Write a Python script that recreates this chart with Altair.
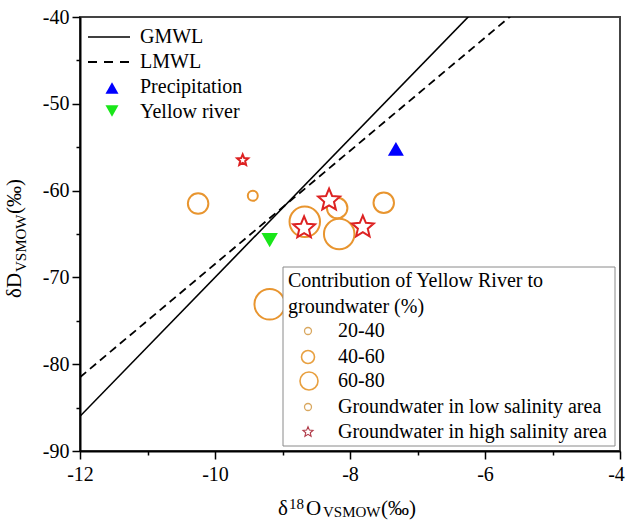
import altair as alt
import pandas as pd

# ---------------- data ----------------
low_x = [-10.25, -9.44, -8.67, -8.19, -8.16, -7.50, -9.19]
low_y = [-61.5, -60.6, -63.6, -62.0, -65.0, -61.4, -73.1]
low_group = ["40-60", "20-40", "60-80", "40-60", "60-80", "40-60", "60-80"]

high_x = [-9.59, -8.68, -8.31, -7.81]
high_y = [-56.5, -64.3, -61.1, -64.2]
high_group = ["20-40", "40-60", "40-60", "40-60"]

precip_x = [-7.32]
precip_y = [-55.2]
river_x = [-9.19]
river_y = [-65.7]

gmwl_slope, gmwl_intercept = 8.0, 10.0
lmwl_slope, lmwl_intercept = 6.52, -3.26
line_x = [-12.0, -4.0]

groups = ["20-40", "40-60", "60-80"]
legend1_labels = ["GMWL", "LMWL", "Precipitation", "Yellow river"]
legend2_title = ["Contribution of Yellow River to", "groundwater (%)"]
legend2_labels = ["20-40", "40-60", "60-80",
                  "Groundwater in low salinity area",
                  "Groundwater in high salinity area"]

x_ticks = list(range(-12, -3))
y_ticks = list(range(-90, -35, 5))

# ---------------- styles ----------------
FONT = "Liberation Serif, Times New Roman, Times, serif"
ORANGE = "#E8952F"
RED = "#DD2222"
STAR = ("M0,-1L0.265,-0.364L0.951,-0.309L0.428,0.139L0.588,0.809L0,0.45"
        "L-0.588,0.809L-0.428,0.139L-0.951,-0.309L-0.265,-0.364Z")

x_axis = alt.Axis(
    values=x_ticks, title=None, grid=False,
    labelExpr="datum.value % 2 === 0 ? '-' + abs(datum.value) : ''",
    tickSize={"condition": {"test": "datum.value % 2 === 0", "value": 8}, "value": 4},
    labelOffset={"condition": {"test": "datum.value === -4", "value": -4}, "value": 0},
    tickColor="black", tickWidth=1.5, domainColor="black", domainWidth=2,
    labelFont=FONT, labelFontSize=20, labelColor="black", labelPadding=5,
    labelFlush=False, labelOverlap=False,
)
y_axis = alt.Axis(
    values=y_ticks, title=None, grid=False,
    labelExpr="datum.value % 10 === 0 ? '-' + abs(datum.value) : ''",
    tickSize={"condition": {"test": "datum.value % 10 === 0", "value": 8}, "value": 4},
    tickColor="black", tickWidth=1.5, domainColor="black", domainWidth=2,
    labelFont=FONT, labelFontSize=20, labelColor="black", labelPadding=3,
    labelFlush=False, labelOverlap=False,
)


def X():
    return alt.X("x:Q", scale=alt.Scale(domain=[-12, -4], nice=False, zero=False), axis=x_axis)


def Y():
    return alt.Y("y:Q", scale=alt.Scale(domain=[-90, -40], nice=False, zero=False), axis=y_axis)


# ---------------- data layers ----------------
gmwl_df = pd.DataFrame({"x": line_x, "y": [gmwl_slope * v + gmwl_intercept for v in line_x]})
lmwl_df = pd.DataFrame({"x": line_x, "y": [lmwl_slope * v + lmwl_intercept for v in line_x]})

gmwl = alt.Chart(gmwl_df).mark_line(color="black", strokeWidth=1.6, clip=True).encode(x=X(), y=Y())
lmwl = alt.Chart(lmwl_df).mark_line(color="black", strokeWidth=1.8, strokeDash=[8, 5], clip=True).encode(x=X(), y=Y())

low_df = pd.DataFrame({"x": low_x, "y": low_y, "group": low_group})
circles = alt.Chart(low_df).mark_point(
    shape="circle", filled=False, color=ORANGE, strokeWidth=2, opacity=1
).encode(
    x=X(), y=Y(),
    size=alt.Size("group:N", scale=alt.Scale(type="ordinal", domain=groups, range=[100, 420, 930]), legend=None),
)

high_df = pd.DataFrame({"x": high_x, "y": high_y, "sgroup": high_group})
stars = alt.Chart(high_df).mark_point(
    shape=STAR, fill="white", fillOpacity=1, stroke=RED, strokeWidth=2, opacity=1
).encode(
    x=X(), y=Y(),
    size=alt.Size("sgroup:N", scale=alt.Scale(type="ordinal", domain=["20-40", "40-60"], range=[135, 529]), legend=None),
)

precip = alt.Chart(pd.DataFrame({"x": precip_x, "y": precip_y})).mark_point(
    shape="triangle-up", filled=True, color="#0000FF", size=256, opacity=1
).encode(x=X(), y=Y())

river = alt.Chart(pd.DataFrame({"x": river_x, "y": river_y})).mark_point(
    shape="triangle-down", filled=True, color="#19E619", size=270, opacity=1
).encode(x=X(), y=Y())

# ---------------- helpers for pixel-placed decorations ----------------
one = pd.DataFrame({"k": [0]})


def text(label, px, py, size=20, align="left", baseline="middle", angle=0):
    kw = dict(font=FONT, fontSize=size, color="black", align=align, baseline=baseline)
    if angle:
        kw["angle"] = angle
    return alt.Chart(pd.DataFrame({"t": [label]})).mark_text(**kw).encode(
        text="t:N", x=alt.value(px), y=alt.value(py))


def sym(px, py, **mark):
    return alt.Chart(one).mark_point(opacity=1, **mark).encode(x=alt.value(px), y=alt.value(py))


layers = [gmwl, lmwl, circles, stars, precip, river]

# legend 1 (top-left, no frame)
l1_rows = [20, 45, 70, 95]
layers.append(alt.Chart(one).mark_rule(color="black", strokeWidth=1.5).encode(
    x=alt.value(8), x2=alt.value(50), y=alt.value(l1_rows[0])))
layers.append(alt.Chart(one).mark_rule(color="black", strokeWidth=1.8, strokeDash=[9, 7]).encode(
    x=alt.value(8), x2=alt.value(50), y=alt.value(l1_rows[1])))
layers.append(sym(32, l1_rows[2] + 1, shape="triangle-up", filled=True, color="#0000FF", size=170))
layers.append(sym(32, l1_rows[3] - 1, shape="triangle-down", filled=True, color="#19E619", size=170))
for lab, ry in zip(legend1_labels, l1_rows):
    layers.append(text(lab, 60, ry))

# legend 2 (framed box)
layers.append(alt.Chart(one).mark_rect(fill="white", stroke="#8a8a8a", strokeWidth=1).encode(
    x=alt.value(203), x2=alt.value(535), y=alt.value(250), y2=alt.value(429)))
layers.append(text(legend2_title[0], 208, 264))
layers.append(text(legend2_title[1], 208, 290))
l2_rows = [314, 340, 364, 390, 415]
layers.append(sym(228, l2_rows[0], shape="circle", filled=False, color="#D9A860", strokeWidth=1.3, size=49))
layers.append(sym(228, l2_rows[1], shape="circle", filled=False, color="#E8A040", strokeWidth=1.6, size=169))
layers.append(sym(229, l2_rows[2], shape="circle", filled=False, color="#E8A040", strokeWidth=1.6, size=324))
layers.append(sym(228, l2_rows[3], shape="circle", filled=False, color="#D9A860", strokeWidth=1.3, size=49))
layers.append(sym(228, l2_rows[4], shape=STAR, fill="white", fillOpacity=1, stroke="#B03A48", strokeWidth=1.1, size=110))
for lab, ry in zip(legend2_labels, l2_rows):
    layers.append(text(lab, 258, ry))

# x-axis title: δ^18 O_VSMOW (‰)
layers.append(text("δ", 198, 498, size=21, baseline="alphabetic"))
layers.append(text("18", 209, 492, size=15, baseline="alphabetic"))
layers.append(text("O", 226, 498, size=21, baseline="alphabetic"))
layers.append(text("VSMOW", 243, 500, size=15, baseline="alphabetic"))
layers.append(text("(‰)", 301, 498, size=21, baseline="alphabetic"))

# y-axis title: δD_VSMOW (‰), rotated
layers.append(text("δD", -59, 281, size=21, baseline="alphabetic", angle=270))
layers.append(text("VSMOW", -54, 255, size=15, baseline="alphabetic", angle=270))
layers.append(text("(‰)", -59, 197, size=21, baseline="alphabetic", angle=270))

chart = alt.layer(*layers).resolve_scale(size="independent").properties(
    width=540, height=434,
    autosize=alt.AutoSizeParams(type="none"),
    padding={"left": 80, "top": 17, "right": 7, "bottom": 79},
    background="white",
).configure_view(stroke="#444444", strokeWidth=2)

chart.save("out.html", embed_options={"renderer": "svg", "actions": False})
